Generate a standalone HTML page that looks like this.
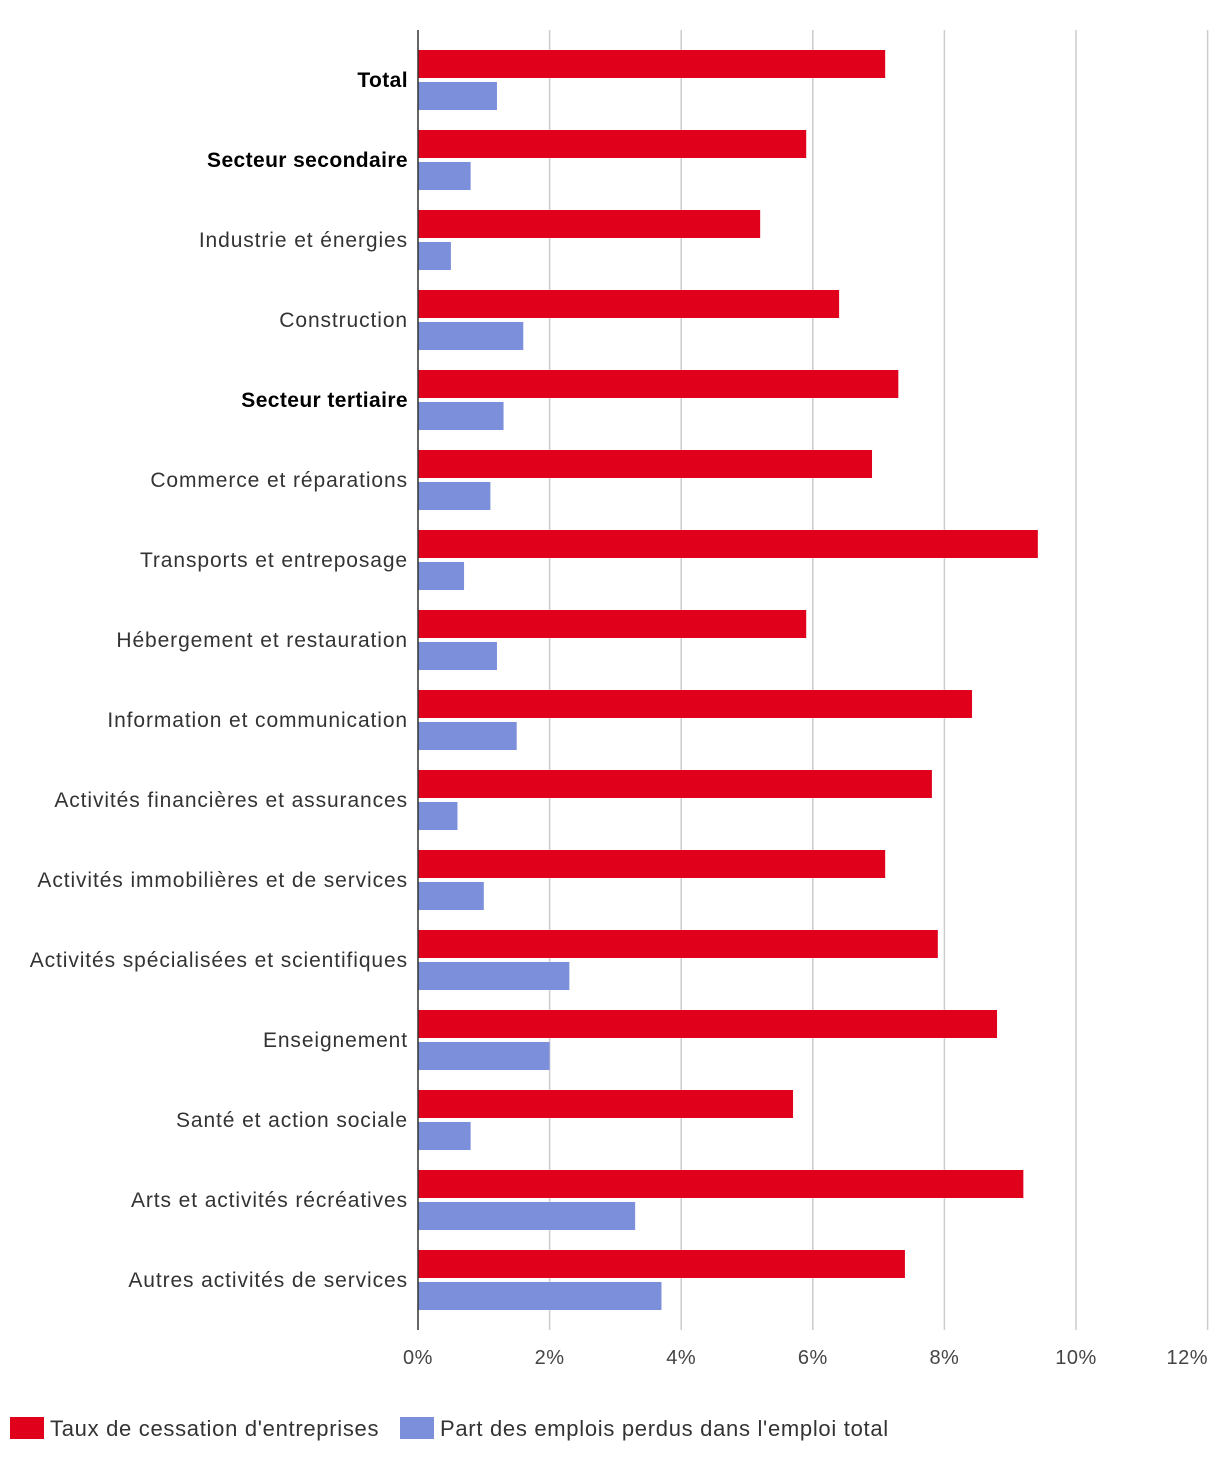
<!DOCTYPE html>
<html><head><meta charset="utf-8"><style>
body{margin:0;background:#fff;}
svg{display:block;font-family:"Liberation Sans",sans-serif;}
</style></head><body>
<svg id="chart" width="1220" height="1460"></svg>
<script>
const categories=["Total","Secteur secondaire","Industrie et énergies","Construction","Secteur tertiaire","Commerce et réparations","Transports et entreposage","Hébergement et restauration","Information et communication","Activités financières et assurances","Activités immobilières et de services","Activités spécialisées et scientifiques","Enseignement","Santé et action sociale","Arts et activités récréatives","Autres activités de services"];
const boldCats=["Total","Secteur secondaire","Secteur tertiaire"];
const cessation=[7.1,5.9,5.2,6.4,7.3,6.9,9.42,5.9,8.42,7.81,7.1,7.9,8.8,5.7,9.2,7.4];
const emplois=[1.2,0.8,0.5,1.6,1.3,1.1,0.7,1.2,1.5,0.6,1.0,2.3,2.0,0.8,3.3,3.7];
const ticks=[0,2,4,6,8,10,12];
const tickLabels=["0%","2%","4%","6%","8%","10%","12%"];
const NS="http://www.w3.org/2000/svg";
const svg=document.getElementById('chart');
const x0=418,pxPer=65.8,top0=40,band=80;
const xs=v=>x0+v*pxPer;
function el(t,a){const e=document.createElementNS(NS,t);for(const k in a)e.setAttribute(k,a[k]);svg.appendChild(e);return e;}
ticks.forEach((t,i)=>{
  if(t>0){const g=el('line',{x1:xs(t),x2:xs(t),y1:30,y2:1330,stroke:'#ccc','stroke-width':1.5});
  
  }
  const last=i===ticks.length-1;
  const l=el('text',{x:last?1208:xs(t),y:1364,'text-anchor':last?'end':'middle','font-size':20,'letter-spacing':0.5,fill:'#444'});
  l.textContent=tickLabels[i];
  
  
});
categories.forEach((c,i)=>{
  const y=top0+i*band;
  const r=el('rect',{x:x0,y:y+10,width:xs(cessation[i])-x0,height:28,fill:'#e0001b'});
  
  
  const b=el('rect',{x:x0,y:y+42,width:xs(emplois[i])-x0,height:28,fill:'#7b8fdb'});
  
  
  const bold=boldCats.includes(c);
  const t=el('text',{x:408,y:y+47,'text-anchor':'end','font-size':21,'letter-spacing':bold?0.4:0.9,fill:bold?'#000':'#333','font-weight':bold?'bold':'normal'});
  t.textContent=c;
  
  
});
const ax=el('line',{x1:x0,x2:x0,y1:30,y2:1330,stroke:'#333','stroke-width':1.5});


const legend=[["Taux de cessation d'entreprises",'#e0001b',10],["Part des emplois perdus dans l'emploi total",'#7b8fdb',400]];
legend.forEach(l=>{
  const r=el('rect',{x:l[2],y:1417,width:34,height:22,fill:l[1]});
  
  
  const t=el('text',{x:l[2]+40,y:1436,'font-size':22,'letter-spacing':0.7,fill:'#333'});
  t.textContent=l[0];
  
  
});
</script>
</body></html>
